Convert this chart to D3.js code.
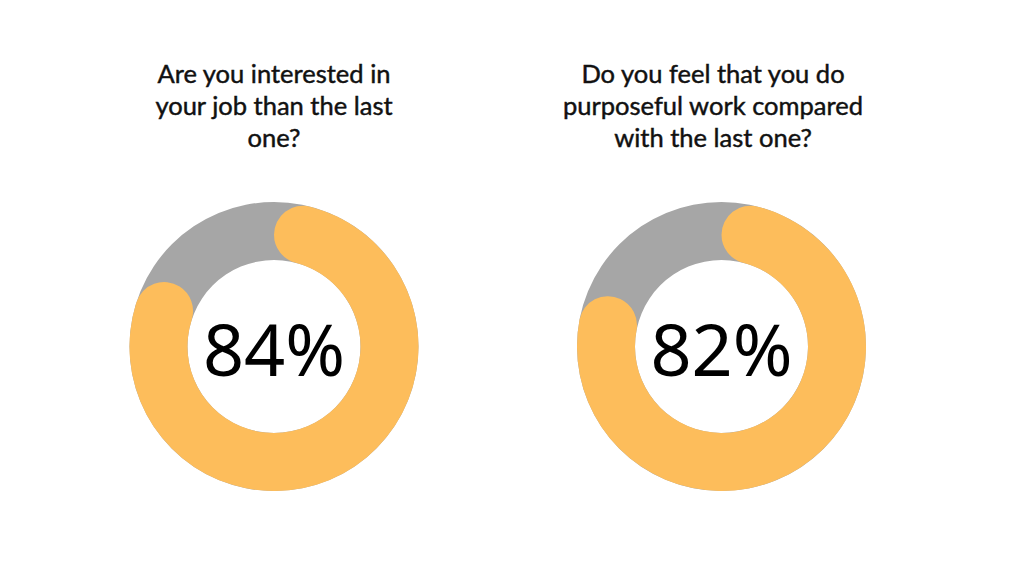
<!DOCTYPE html>
<html><head><meta charset="utf-8">
<script src="https://cdn.jsdelivr.net/npm/d3@7"></script>
<style>html,body{margin:0;padding:0;background:#fff;}</style>
</head><body>
<svg id="c" width="1024" height="576"></svg>
<script>
const questions = [
  ["Are you interested in", "your job than the last", "one?"],
  ["Do you feel that you do", "purposeful work compared", "with the last one?"]
];
const values = [84, 82];
const labels = ["84%", "82%"];

const svg = d3.select("#c");
const centersX = [274, 721.5];
const titleX = [274, 713];
const cy = 346.5;
const rOuter = 144.5, rInner = 86.5;
const orange = "#FDBD5B", gray = "#A6A6A6";

const angle = d3.scaleLinear().domain([0, 100]).range([0, 2 * Math.PI]);
const bgArc = d3.arc().innerRadius(rInner).outerRadius(rOuter).startAngle(0).endAngle(2 * Math.PI);
const fgArc = d3.arc().innerRadius(rInner).outerRadius(rOuter).cornerRadius((rOuter - rInner) / 2);

values.forEach((v, i) => {
  const g = svg.append("g").attr("transform", `translate(${centersX[i]},${cy})`);
  g.append("path").attr("d", bgArc()).attr("fill", gray);
  g.append("path").attr("d", fgArc({startAngle: angle(0), endAngle: angle(v)})).attr("fill", orange);
  g.append("text").attr("x", 0).attr("y", 29.5)
    .attr("text-anchor", "middle")
    .attr("font-family", "'Noto Sans', sans-serif")
    .attr("font-size", 72)
    .attr("fill", "#000")
    .text(labels[i]);

  const t = svg.append("text")
    .attr("text-anchor", "middle")
    .attr("font-family", "Lato, sans-serif")
    .attr("font-size", 25.5)
    .attr("fill", "#111")
    .attr("stroke", "#111")
    .attr("stroke-width", 0.45);
  questions[i].forEach((line, j) => {
    t.append("tspan").attr("x", titleX[i]).attr("y", 82.5 + j * 32).text(line);
  });
});
</script>
</body></html>
